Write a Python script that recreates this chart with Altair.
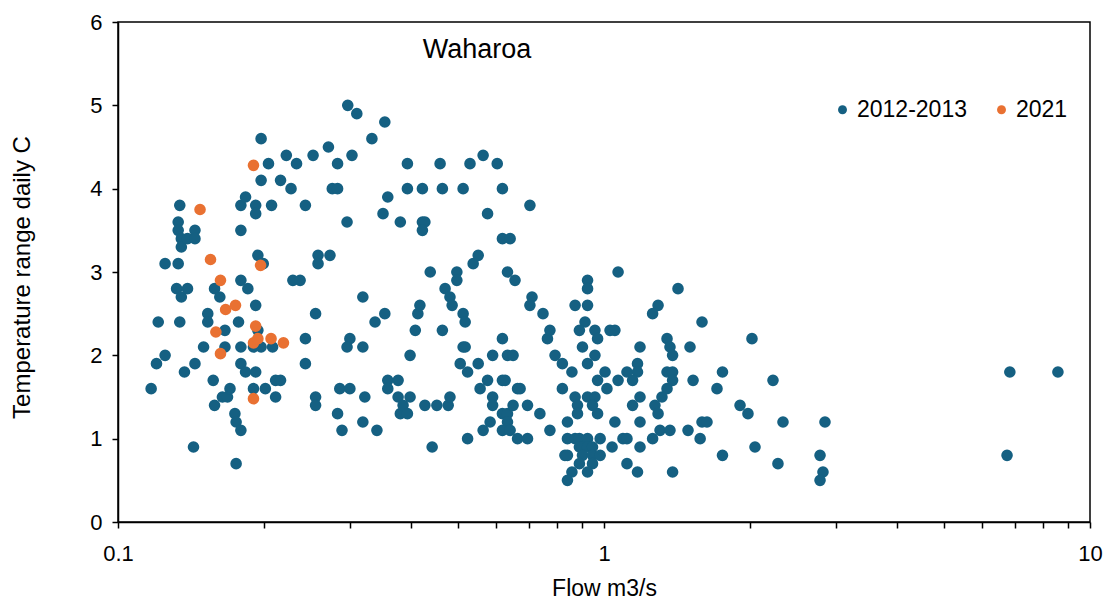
import altair as alt
import pandas as pd

# ---- data ----
flow_2012 = [
    0.117, 0.120, 0.121, 0.125, 0.125, 0.132, 0.133, 0.133, 0.134, 0.135,
    0.135, 0.133, 0.135, 0.134, 0.137, 0.139, 0.139, 0.143, 0.144, 0.144,
    0.144, 0.150, 0.153, 0.153, 0.157, 0.158, 0.158, 0.162, 0.164, 0.166,
    0.166, 0.168, 0.170, 0.174, 0.175, 0.179, 0.175, 0.177, 0.179, 0.179,
    0.179, 0.179, 0.179, 0.183, 0.183, 0.185, 0.192, 0.192, 0.192, 0.192,
    0.194, 0.194, 0.190, 0.197, 0.190, 0.197, 0.197, 0.199, 0.201, 0.204,
    0.207, 0.208, 0.211, 0.216, 0.211, 0.216, 0.222, 0.227, 0.229, 0.233,
    0.237, 0.243, 0.243, 0.243, 0.252, 0.255, 0.255, 0.255, 0.258, 0.258,
    0.271, 0.273, 0.276, 0.283, 0.283, 0.286, 0.300, 0.283, 0.289, 0.296,
    0.297, 0.300, 0.296, 0.303, 0.310, 0.319, 0.319, 0.322, 0.319, 0.333,
    0.338, 0.341, 0.351, 0.354, 0.354, 0.359, 0.359, 0.359, 0.377, 0.377,
    0.381, 0.381, 0.386, 0.394, 0.394, 0.394, 0.399, 0.399, 0.409, 0.414,
    0.418, 0.423, 0.428, 0.423, 0.423, 0.428, 0.439, 0.443, 0.453, 0.460,
    0.465, 0.465, 0.471, 0.478, 0.482, 0.482, 0.487, 0.498, 0.498, 0.506,
    0.513, 0.513, 0.518, 0.513, 0.518, 0.524, 0.524, 0.530, 0.538, 0.551,
    0.551, 0.556, 0.564, 0.564, 0.576, 0.576, 0.583, 0.590, 0.590, 0.590,
    0.603, 0.618, 0.618, 0.633, 0.618, 0.618, 0.626, 0.618, 0.633, 0.633,
    0.618, 0.641, 0.633, 0.641, 0.650, 0.650, 0.656, 0.664, 0.672, 0.664,
    0.696, 0.696, 0.704, 0.711, 0.704, 0.738, 0.749, 0.765, 0.774, 0.774,
    0.793, 0.821, 1.069, 0.925, 0.925, 1.420, 0.872, 0.925, 1.292, 1.259,
    0.914, 0.890, 0.958, 0.970, 1.029, 1.053, 1.591, 0.903, 1.186, 1.348,
    1.367, 1.384, 1.503, 0.958, 0.925, 1.172, 1.172, 0.859, 1.005, 0.970,
    1.115, 1.145, 1.069, 1.348, 1.384, 1.384, 1.348, 1.525, 1.753, 1.708,
    0.821, 1.014, 1.316, 1.273, 1.292, 0.872, 0.882, 0.882, 0.925, 0.958,
    0.947, 0.970, 1.186, 1.145, 0.841, 1.053, 1.186, 1.591, 1.629, 1.304,
    1.367, 1.489, 0.841, 0.872, 0.890, 0.925, 0.982, 1.094, 1.115, 1.259,
    1.577, 0.890, 0.903, 0.925, 0.947, 1.039, 1.186, 0.831, 0.841, 0.903,
    0.947, 0.982, 1.753, 0.890, 0.947, 1.115, 0.859, 0.925, 1.172, 1.384,
    0.841, 2.016, 2.227, 1.905, 1.978, 2.335, 2.849, 2.045, 2.280, 2.783,
    2.822, 2.783, 6.84, 8.59, 6.75,
]
range_2012 = [
    1.6, 1.9, 2.4, 3.1, 2.0, 2.8, 3.6, 3.5, 3.8, 3.4,
    3.3, 3.1, 2.7, 2.4, 1.8, 2.8, 3.4, 0.9, 3.5, 3.4,
    1.9, 2.1, 2.5, 2.4, 1.7, 1.4, 2.8, 2.7, 1.5, 2.3,
    2.1, 1.5, 1.6, 1.3, 1.2, 1.1, 0.7, 2.4, 3.5, 3.8,
    2.9, 1.9, 2.1, 3.9, 1.8, 2.8, 2.6, 3.8, 3.7, 1.8,
    3.2, 2.3, 2.1, 2.1, 1.6, 4.6, 4.1, 3.1, 1.6, 4.3,
    3.8, 2.1, 1.7, 1.7, 1.5, 4.1, 4.4, 4.0, 2.9, 4.3,
    2.9, 3.8, 2.2, 1.9, 4.4, 2.5, 1.5, 1.4, 3.2, 3.1,
    4.5, 3.2, 4.0, 4.0, 4.3, 1.6, 1.6, 1.3, 1.1, 3.6,
    5.0, 2.2, 2.1, 4.4, 4.9, 2.7, 2.1, 1.5, 1.2, 4.6,
    2.4, 1.1, 3.7, 4.8, 2.5, 3.9, 1.7, 1.6, 1.7, 1.5,
    3.6, 1.3, 1.4, 1.3, 4.3, 4.0, 2.0, 1.5, 2.3, 2.5,
    2.6, 3.6, 3.6, 3.5, 4.0, 1.4, 3.0, 0.9, 1.4, 4.3,
    2.3, 4.0, 2.8, 1.4, 2.7, 1.5, 2.6, 3.0, 2.9, 1.9,
    2.5, 4.0, 2.4, 2.1, 2.1, 1.8, 1.0, 4.3, 3.1, 3.2,
    1.9, 1.6, 4.4, 1.1, 3.7, 1.7, 1.2, 2.0, 1.5, 1.4,
    4.3, 2.2, 3.4, 3.0, 4.0, 1.7, 1.7, 1.3, 1.3, 1.2,
    1.1, 1.1, 2.0, 3.4, 2.0, 1.4, 2.9, 1.6, 1.6, 1.0,
    1.4, 1.0, 3.8, 2.7, 2.6, 1.3, 2.5, 2.2, 2.3, 1.1,
    2.0, 1.9, 3.0, 2.9, 2.8, 2.8, 2.6, 2.6, 2.6, 2.5,
    2.4, 2.3, 2.3, 2.2, 2.3, 2.3, 2.4, 2.1, 2.1, 2.2,
    2.1, 2.0, 2.1, 2.0, 1.9, 1.9, 1.8, 1.8, 1.8, 1.7,
    1.8, 1.7, 1.7, 1.8, 1.8, 1.7, 1.6, 1.7, 1.8, 1.6,
    1.6, 1.6, 1.5, 1.4, 1.3, 1.5, 1.4, 1.3, 1.5, 1.5,
    1.4, 1.3, 1.5, 1.4, 1.2, 1.2, 1.2, 1.2, 1.2, 1.1,
    1.1, 1.1, 1.0, 1.0, 1.0, 1.0, 1.0, 1.0, 1.0, 1.0,
    1.0, 0.9, 0.9, 0.9, 0.9, 0.9, 0.9, 0.8, 0.8, 0.8,
    0.8, 0.8, 0.8, 0.7, 0.7, 0.7, 0.6, 0.6, 0.6, 0.6,
    0.5, 2.2, 1.7, 1.4, 1.3, 1.2, 1.2, 0.9, 0.7, 0.8,
    0.6, 0.5, 1.8, 1.8, 0.8,
]
flow_2021 = [
    0.1475, 0.155, 0.1625, 0.1665, 0.1745, 0.159, 0.1625, 0.190,
    0.1965, 0.192, 0.190, 0.194, 0.2065, 0.219, 0.190,
]
range_2021 = [
    3.75, 3.15, 2.9, 2.55, 2.6, 2.28, 2.02, 4.28,
    3.08, 2.35, 2.15, 2.2, 2.2, 2.15, 1.48,
]
periods = ["2012-2013", "2021"]
colors = ["#156082", "#E97132"]
x_tick_values = [0.1, 0.2, 0.3, 0.4, 0.5, 0.6, 0.7, 0.8, 0.9,
                 1, 2, 3, 4, 5, 6, 7, 8, 9, 10]
y_tick_values = [0, 1, 2, 3, 4, 5, 6]
chart_title = "Waharoa"

FONT = "Liberation Sans"

df = pd.DataFrame({
    "Flow": flow_2012 + flow_2021,
    "Range": range_2012 + range_2021,
    "Period": [periods[0]] * len(flow_2012) + [periods[1]] * len(flow_2021),
})

points = alt.Chart(df).mark_circle(size=135, opacity=1).encode(
    x=alt.X(
        "Flow:Q",
        scale=alt.Scale(type="log", domain=[0.1, 10], nice=False),
        axis=alt.Axis(
            values=x_tick_values,
            labelExpr="(datum.value == 0.1 || datum.value == 1 || datum.value == 10) ? format(datum.value, '~g') : ''",
            labelFlush=False,
            labelOverlap=False,
            title="Flow m3/s",
            grid=False,
            tickSize=6,
            labelPadding=15,
            labelFontSize=22,
            titleFontSize=23,
            titleY=73,
            titleBaseline="alphabetic",
        ),
    ),
    y=alt.Y(
        "Range:Q",
        scale=alt.Scale(domain=[0, 6], nice=False),
        axis=alt.Axis(
            values=y_tick_values,
            labelFlush=False,
            title="Temperature range daily C",
            grid=False,
            tickSize=6,
            labelPadding=10,
            labelFontSize=22,
            titleFontSize=24,
            titleAngle=270,
            titleX=-96,
            titleY=255,
            titleBaseline="middle",
        ),
    ),
    color=alt.Color(
        "Period:N",
        scale=alt.Scale(domain=periods, range=colors),
        legend=alt.Legend(
            title=None,
            orient="none",
            direction="horizontal",
            legendX=713,
            legendY=76,
            symbolType="circle",
            symbolSize=80,
            labelFontSize=23,
            labelFont=FONT,
            labelColor="black",
            labelOffset=3,
            columnPadding=23,
            padding=0,
        ),
    ),
)

title_df = pd.DataFrame({"t": [chart_title]})
title_text = alt.Chart(title_df).mark_text(
    font=FONT, fontSize=27, align="center", baseline="alphabetic", color="black"
).encode(
    x=alt.value(359),
    y=alt.value(36),
    text="t:N",
)

chart = alt.layer(points, title_text).properties(
    width=972,
    height=500,
    padding={"left": 118, "top": 22, "right": 17, "bottom": 78},
    autosize=alt.AutoSizeParams(type="none"),
    background="white",
).configure_view(
    stroke="black", strokeWidth=1.5
).configure_axis(
    domainColor="black",
    domainWidth=1.5,
    tickColor="black",
    tickWidth=1.5,
    labelColor="black",
    titleColor="black",
    labelFont=FONT,
    titleFont=FONT,
    titleFontWeight="normal",
)

chart.save("out.html", embed_options={"renderer": "svg", "actions": False})
